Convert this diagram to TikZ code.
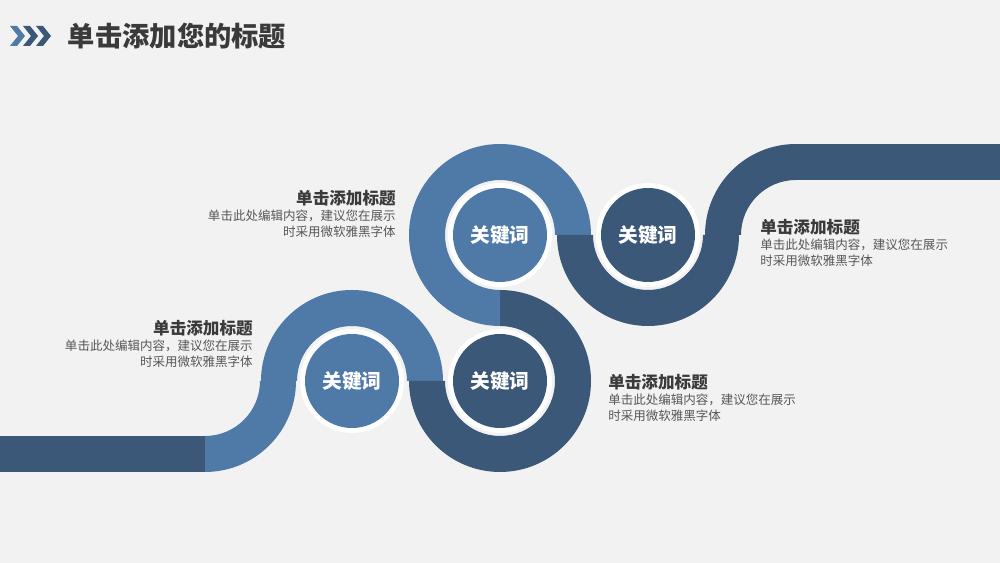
\documentclass[tikz,border=0pt]{standalone}
\usepackage{fontspec}
\setmainfont{Noto Sans CJK SC}
\usetikzlibrary{positioning}
\definecolor{bg}{HTML}{F2F2F2}
\definecolor{lightband}{HTML}{4F7AA7}
\definecolor{darkband}{HTML}{3B5878}
\definecolor{txt}{HTML}{3A3A3A}
\tikzset{
  head/.style={font=\fontsize{11.8}{13}\selectfont\bfseries, text=txt, inner sep=0pt},
  body/.style={font=\fontsize{8.9}{11.3}\selectfont, text=txt!85, inner sep=0pt},
  key/.style={font=\fontsize{14}{16}\selectfont\bfseries, text=white},
}
% band piece: centre x, centre y, start angle, end angle, colour
\newcommand{\bandpiece}[5]{%
  \fill[#5] (#1,#2) ++(#3:91) arc (#3:#4:91) -- ($(#1,#2)+(#4:55)$) arc (#4:#3:55) -- cycle;}
\usetikzlibrary{calc}
\begin{document}
\begin{tikzpicture}[x=0.025cm,y=0.025cm]
  \fill[bg] (0,0) rectangle (1000,563);
  % title
  \foreach \i/\c in {0/lightband,1/darkband,2/darkband}
    \fill[\c] (10+\i*13,537) -- ++(7,0) -- ++(8,-10) -- ++(-8,-10) -- ++(-7,0) -- ++(8,10) -- cycle;
  \node[anchor=west, font=\fontsize{19.4}{22}\selectfont\bfseries, text=txt] (title) at (63,527) {单击添加您的标题};
  % band
  \fill[darkband] (0,91) rectangle (205,127);
  \bandpiece{205}{182}{-90}{0}{lightband}
  \bandpiece{352}{182}{0}{180}{lightband}
  \bandpiece{500}{182}{180}{450}{darkband}
  \bandpiece{500}{328}{0}{270}{lightband}
  \bandpiece{648}{328}{180}{360}{darkband}
  \bandpiece{796}{328}{90}{180}{darkband}
  \fill[darkband] (796,383) rectangle (1000,419);
  % key circles
  \foreach \n/\x/\y/\c in {ka/352/182/lightband,kb/500/182/darkband,kc/500/328/lightband,kd/648/328/darkband}{
    \fill[white] (\x,\y) circle (52);
    \fill[\c] (\x,\y) circle (47);
    \node[key] (\n) at (\x,\y) {关键词};
  }
  % texts
  \node[head, anchor=base east] (h1) at (396,358) {单击添加标题};
  \node[body, anchor=north east, align=right] (b1) at (396,353) {单击此处编辑内容，建议您在展示\\时采用微软雅黑字体};
  \node[head, anchor=base east] (h2) at (253,228) {单击添加标题};
  \node[body, anchor=north east, align=right] (b2) at (253,223) {单击此处编辑内容，建议您在展示\\时采用微软雅黑字体};
  \node[head, anchor=base west] (h3) at (608,174) {单击添加标题};
  \node[body, anchor=north west, align=left] (b3) at (608,169) {单击此处编辑内容，建议您在展示\\时采用微软雅黑字体};
  \node[head, anchor=base west] (h4) at (760,329) {单击添加标题};
  \node[body, anchor=north west, align=left] (b4) at (760,324) {单击此处编辑内容，建议您在展示\\时采用微软雅黑字体};
\end{tikzpicture}
\end{document}
